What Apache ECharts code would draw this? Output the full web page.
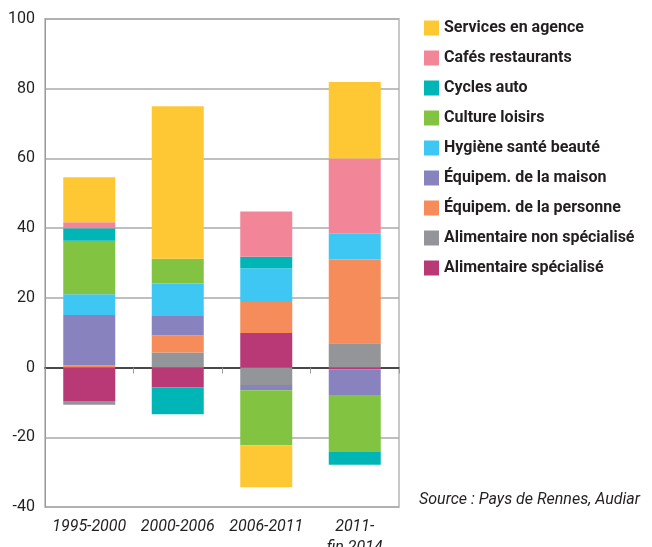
<!DOCTYPE html>
<html>
<head>
<meta charset="utf-8">
<script src="https://cdn.jsdelivr.net/npm/echarts@6/dist/echarts.min.js"></script>
<style>
  html, body { margin: 0; padding: 0; background: #fff; }
  #chart { width: 652px; height: 547px; }
</style>
</head>
<body>
<div id="chart"></div>
<script>
// périodes
const periods = ['1995-2000', '2000-2006', '2006-2011', '2011-\nfin 2014']
const yTicks = [-40, -20, 0, 20, 40, 60, 80, 100]

// valeurs par secteur (ordre d'empilement, du bas vers le haut)
const alimSpecialise = [-9.6, -5.7, 9.9, -0.5]
const alimNonSpecialise = [-1.1, 4.3, -5.0, 7.0]
const equipPersonne = [0.7, 5.0, 8.9, 24.0]
const equipMaison = [14.4, 5.5, -1.5, -7.4]
const hygiene = [5.9, 9.3, 9.7, 7.4]
const culture = [15.4, 7.1, -15.8, -16.3]
const cycles = [3.6, -7.7, 3.3, -3.7]
const cafes = [1.7, 0, 13.0, 21.6]
const services = [12.9, 43.8, -12.0, 21.9]

const FONT = 'Roboto, "Liberation Sans", Arial, sans-serif'

;(function () {
    const chart = echarts.init(document.getElementById('chart'))
    const seriesDefs = [
        { name: 'Alimentaire spécialisé', data: alimSpecialise, color: '#b83976' },
        { name: 'Alimentaire non spécialisé', data: alimNonSpecialise, color: '#949598' },
        { name: 'Équipem. de la personne', data: equipPersonne, color: '#f68c5a' },
        { name: 'Équipem. de la maison', data: equipMaison, color: '#8882be' },
        { name: 'Hygiène santé beauté', data: hygiene, color: '#3fc7f4' },
        { name: 'Culture loisirs', data: culture, color: '#82c341' },
        { name: 'Cycles auto', data: cycles, color: '#00b5b5' },
        { name: 'Cafés restaurants', data: cafes, color: '#f28598' },
        { name: 'Services en agence', data: services, color: '#fec834' }
    ]
    const option = {
        animation: false,
        grid: {
            left: 45,
            right: 253,
            top: 19,
            bottom: 40,
            containLabel: false,
            outerBoundsMode: 'none',
            show: true,
            borderColor: '#c8c8c8',
            borderWidth: 2
        },
        legend: {
            orient: 'vertical',
            left: 419,
            top: 14,
            itemWidth: 15,
            itemHeight: 15,
            itemGap: 12,
            icon: 'rect',
            // légende dans l'ordre inverse de l'empilement
            data: seriesDefs.map(s => s.name).reverse(),
            textStyle: {
                fontFamily: FONT,
                fontSize: 16,
                fontWeight: 'bold',
                lineHeight: 18,
                color: '#231f20'
            }
        },
        graphic: [
            {
                type: 'text',
                left: 419,
                top: 492,
                style: {
                    text: 'Source : Pays de Rennes, Audiar',
                    font: 'italic 16px ' + FONT,
                    fill: '#231f20'
                }
            }
        ],
        xAxis: [
            {
                // axe au niveau du zéro
                type: 'category',
                data: periods,
                axisLine: { onZero: true, lineStyle: { color: '#222', width: 1.5 } },
                axisTick: { show: true, alignWithLabel: false, length: 6, lineStyle: { color: '#999' } },
                axisLabel: { show: false },
                splitLine: { show: false }
            },
            {
                // libellés en bas
                type: 'category',
                data: periods,
                position: 'bottom',
                axisLine: { show: false, onZero: false },
                axisTick: { show: false },
                axisLabel: {
                    interval: 0,
                    fontFamily: FONT,
                    fontSize: 16,
                    fontStyle: 'italic',
                    color: '#231f20',
                    margin: 9,
                    lineHeight: 21
                }
            }
        ],
        yAxis: {
            type: 'value',
            min: yTicks[0],
            max: yTicks[yTicks.length - 1],
            interval: 20,
            axisLine: { show: true, lineStyle: { color: '#999' } },
            axisTick: { show: false },
            axisLabel: {
                fontFamily: FONT,
                fontSize: 16,
                color: '#231f20',
                margin: 10
            },
            splitLine: { lineStyle: { color: '#aaa', width: 1.5 } }
        },
        series: seriesDefs.map(s => ({
            name: s.name,
            type: 'bar',
            stack: 'total',
            xAxisIndex: 0,
            barWidth: 52,
            data: s.data,
            itemStyle: { color: s.color },
            emphasis: { disabled: true }
        }))
    }
    chart.setOption(option)
    window.addEventListener('resize', () => {
        chart.resize()
    })
})()
</script>
</body>
</html>
